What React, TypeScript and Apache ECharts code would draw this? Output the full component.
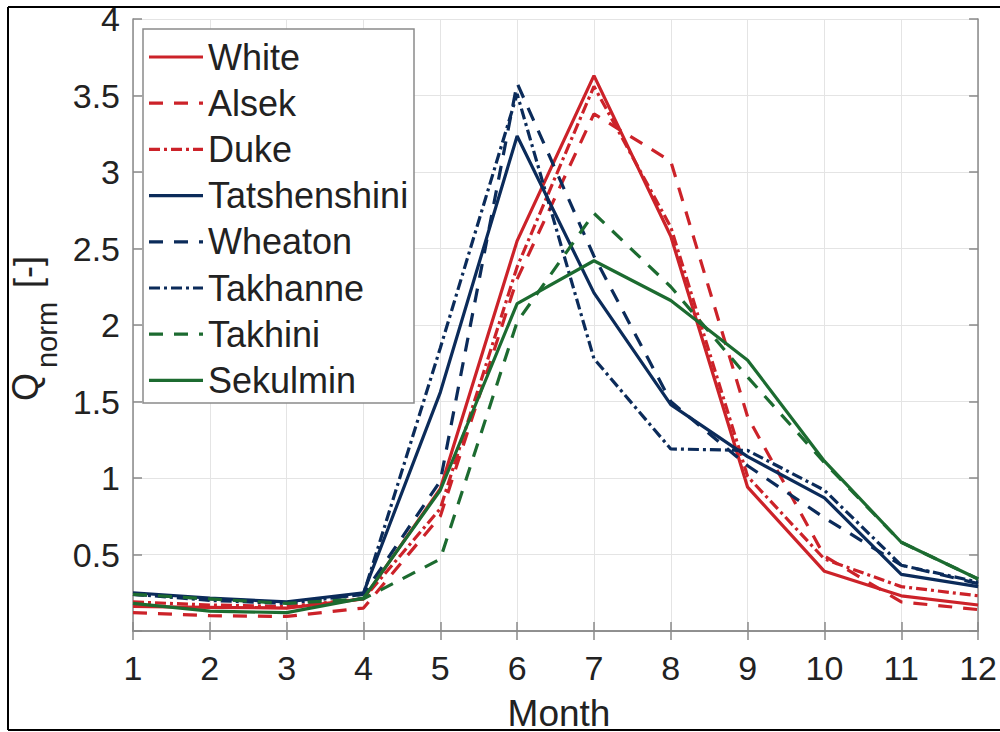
import React, { useEffect, useRef } from "react";
import * as echarts from "echarts";

const months = [1, 2, 3, 4, 5, 6, 7, 8, 9, 10, 11, 12];
const yTicks = [0, 0.5, 1, 1.5, 2, 2.5, 3, 3.5, 4];

const white = [0.16, 0.155, 0.15, 0.21, 0.93, 2.55, 3.63, 2.58, 0.94, 0.39, 0.23, 0.17];
const alsek = [0.12, 0.1, 0.095, 0.15, 0.75, 2.3, 3.38, 3.07, 1.4, 0.49, 0.19, 0.14];
const duke = [0.19, 0.17, 0.16, 0.21, 0.8, 2.38, 3.56, 2.64, 1.01, 0.47, 0.29, 0.23];
const tatshenshini = [0.25, 0.215, 0.19, 0.25, 1.56, 3.235, 2.21, 1.48, 1.14, 0.87, 0.37, 0.29];
const wheaton = [0.24, 0.21, 0.185, 0.24, 0.98, 3.58, 2.45, 1.5, 1.08, 0.74, 0.43, 0.31];
const takhanne = [0.24, 0.2, 0.18, 0.24, 1.85, 3.51, 1.78, 1.19, 1.18, 0.92, 0.43, 0.32];
const takhini = [0.24, 0.21, 0.18, 0.21, 0.47, 2.02, 2.73, 2.25, 1.66, 1.1, 0.58, 0.34];
const sekulmin = [0.18, 0.13, 0.12, 0.215, 0.92, 2.14, 2.42, 2.16, 1.77, 1.11, 0.58, 0.34];

const RED = "#cc2229";
const BLUE = "#0b2b5a";
const GREEN = "#1c6b30";
const DASH = [14, 11];
const DASHDOT = [11, 4, 3, 4];

const seriesDefs = [
  { name: "White", data: white, color: RED, dash: null as number[] | null },
  { name: "Alsek", data: alsek, color: RED, dash: DASH },
  { name: "Duke", data: duke, color: RED, dash: DASHDOT },
  { name: "Tatshenshini", data: tatshenshini, color: BLUE, dash: null },
  { name: "Wheaton", data: wheaton, color: BLUE, dash: DASH },
  { name: "Takhanne", data: takhanne, color: BLUE, dash: DASHDOT },
  { name: "Takhini", data: takhini, color: GREEN, dash: DASH },
  { name: "Sekulmin", data: sekulmin, color: GREEN, dash: null },
];

const FONT = "'Liberation Sans', Arial, sans-serif";
const AXIS_GREY = "#8a8a8a";
const LW = 3.2;

export default function App() {
  const ref = useRef<HTMLDivElement>(null);
  useEffect(() => {
    if (!ref.current) return;
    const chart = echarts.init(ref.current, null, { renderer: "svg" });
    const axisCommon = {
      type: "value" as const,
      axisLine: { show: true, lineStyle: { color: AXIS_GREY, width: 1.5 } },
      axisTick: { show: true, inside: true, length: 9, lineStyle: { color: AXIS_GREY, width: 1.5 } },
    };

    // legend drawn with graphic elements
    const legX = 143;
    const legY = 29;
    const legW = 271;
    const legH = 374;
    const rowH = 46.2;
    const legendEls: any[] = [
      {
        type: "rect",
        shape: { x: legX, y: legY, width: legW, height: legH },
        style: { fill: "#ffffff", stroke: "#8a8a8a", lineWidth: 1.5 },
        z: 10,
      },
    ];
    seriesDefs.forEach((s, i) => {
      const cy = legY + 28 + rowH * i;
      legendEls.push({
        type: "line",
        shape: { x1: legX + 6, y1: cy, x2: legX + 60, y2: cy },
        style: { stroke: s.color, lineWidth: LW, lineDash: s.dash || undefined },
        z: 11,
      });
      legendEls.push({
        type: "text",
        x: legX + 65,
        y: cy,
        style: { text: s.name, fill: "#222", font: `36px ${FONT}`, align: "left", verticalAlign: "middle" },
        z: 11,
      });
    });

    chart.setOption({
      animation: false,
      backgroundColor: "#ffffff",
      textStyle: { fontFamily: FONT },
      grid: { left: 133, right: 15, top: 19, bottom: 101, containLabel: false },
      xAxis: [
        {
          ...axisCommon,
          min: 1,
          max: 12,
          interval: 1,
          position: "bottom",
          axisLabel: { fontSize: 34, color: "#222", margin: 20, fontFamily: FONT },
          splitLine: { show: true, lineStyle: { color: "#e4e4e4", width: 1 } },
        },
        {
          ...axisCommon,
          min: 1,
          max: 12,
          interval: 1,
          position: "top",
          axisLabel: { show: false },
          splitLine: { show: false },
        },
      ],
      yAxis: [
        {
          ...axisCommon,
          min: yTicks[0],
          max: yTicks[yTicks.length - 1],
          interval: 0.5,
          position: "left",
          axisLabel: {
            fontSize: 34,
            color: "#222",
            margin: 13,
            fontFamily: FONT,
            formatter: (v: number) => (v === 0 ? "" : String(v)),
          },
          splitLine: { show: true, lineStyle: { color: "#e4e4e4", width: 1 } },
        },
        {
          ...axisCommon,
          min: yTicks[0],
          max: yTicks[yTicks.length - 1],
          interval: 0.5,
          position: "right",
          axisLabel: { show: false },
          splitLine: { show: false },
        },
      ],
      graphic: [
        { type: "line", shape: { x1: 8, y1: 7, x2: 1000, y2: 7 }, style: { stroke: "#000", lineWidth: 2 } },
        { type: "line", shape: { x1: 8, y1: 7, x2: 8, y2: 730 }, style: { stroke: "#000", lineWidth: 2 } },
        { type: "line", shape: { x1: 8, y1: 730, x2: 1000, y2: 730 }, style: { stroke: "#000", lineWidth: 2 } },
        {
          type: "text",
          x: 559,
          y: 713,
          style: { text: "Month", fill: "#222", font: `37px ${FONT}`, align: "center", verticalAlign: "middle" },
        },
        {
          type: "text",
          x: 25,
          y: 387,
          rotation: Math.PI / 2,
          style: { text: "Q", fill: "#222", font: `36px ${FONT}`, align: "center", verticalAlign: "middle" },
        },
        {
          type: "text",
          x: 47,
          y: 335,
          rotation: Math.PI / 2,
          style: { text: "norm", fill: "#222", font: `29px ${FONT}`, align: "center", verticalAlign: "middle" },
        },
        {
          type: "text",
          x: 27,
          y: 272,
          rotation: Math.PI / 2,
          style: { text: "[-]", fill: "#222", font: `36px ${FONT}`, align: "center", verticalAlign: "middle" },
        },
        ...legendEls,
      ],
      series: seriesDefs.map((s) => ({
        name: s.name,
        type: "line",
        xAxisIndex: 0,
        yAxisIndex: 0,
        data: months.map((m, i) => [m, s.data[i]]),
        showSymbol: false,
        symbol: "none",
        color: s.color,
        lineStyle: { color: s.color, width: LW, type: (s.dash || "solid") as any },
      })),
    });
    return () => chart.dispose();
  }, []);
  return (
    <div
      ref={ref}
      style={{ position: "fixed", left: 0, top: 0, width: 1000, height: 732, background: "#fff" }}
    />
  );
}
